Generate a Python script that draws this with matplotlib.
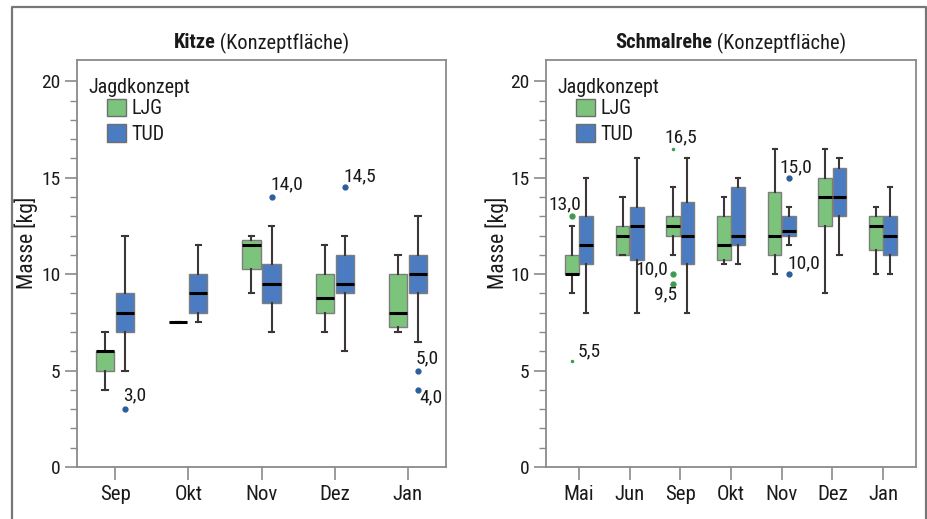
import matplotlib
matplotlib.use('Agg')
import matplotlib.pyplot as plt
import matplotlib.font_manager as fm
from matplotlib.patches import Patch
from matplotlib.lines import Line2D

# pick a narrow sans if there is one
names = {f.name for f in fm.fontManager.ttflist}
FONT = 'DejaVu Sans'
for cand in ['Liberation Sans Narrow', 'Roboto Condensed', 'Open Sans Condensed', 'Noto Sans', 'Open Sans']:
    if cand in names:
        FONT = cand
        break
plt.rcParams['font.family'] = [FONT, 'DejaVu Sans']

# --- data: (whislo, q1, med, q3, whishi) per month ---
months_kitze = ['Sep', 'Okt', 'Nov', 'Dez', 'Jan']
kitze_ljg = [(4, 5, 6, 6, 7), (7.5, 7.5, 7.5, 7.5, 7.5), (9, 10.25, 11.5, 11.75, 12),
             (7, 8, 8.75, 10, 11.5), (7, 7.25, 8, 10, 11)]
kitze_tud = [(5, 7, 8, 9, 12), (7.5, 8, 9, 10, 11.5), (7, 8.5, 9.5, 10.5, 12.5),
             (6, 9, 9.5, 11, 12), (6.5, 9, 10, 11, 13)]
# outliers: group, month index, value
kitze_out = [('TUD', 0, 3.0), ('TUD', 2, 14.0), ('TUD', 3, 14.5), ('TUD', 4, 5.0), ('TUD', 4, 4.0)]

months_schmal = ['Mai', 'Jun', 'Sep', 'Okt', 'Nov', 'Dez', 'Jan']
schmal_ljg = [(9, 10, 10, 11, 12.5), (11, 11, 12, 12.5, 14), (11, 12, 12.5, 13, 14.5),
              (10.5, 10.75, 11.5, 13, 14), (10, 11, 12, 14.25, 16.5), (9, 12.5, 14, 15, 16.5),
              (10, 11.25, 12.5, 13, 13.5)]
schmal_tud = [(8, 10.5, 11.5, 13, 15), (8, 10.75, 12.5, 13.5, 16), (8, 10.5, 12, 13.75, 16),
              (10.5, 11.5, 12, 14.5, 15), (11.5, 12, 12.25, 13, 13.5), (11, 13, 14, 15.5, 16),
              (10, 11, 12, 13, 14.5)]
schmal_out = [('LJG', 0, 13.0), ('LJG', 0, 5.5), ('LJG', 2, 16.5), ('LJG', 2, 10.0), ('LJG', 2, 9.5),
              ('TUD', 4, 15.0), ('TUD', 4, 10.0)]

# label placement for the outliers (pixel offsets, ha, marker size)
kitze_lab = [(-2, 14, 'left', 3.5), (-1, 13, 'left', 3.5), (-1, 11, 'left', 3.5),
             (-2, 12, 'left', 3.5), (1, -8, 'left', 3.5)]
schmal_lab = [(-23, 12, 'left', 3.5), (6, 10, 'left', 1.5), (-9, 11, 'left', 1.5), (-5, 5, 'right', 3.5),
              (4, -11, 'right', 3.5), (-9, 10, 'left', 3.5), (-1, 11, 'left', 3.5)]

GREEN = '#7cc47c'
BLUE = '#4b7cc2'
GREEN_DOT = '#3f9a50'
BLUE_DOT = '#2c5d9e'
WHISK = '#3d3636'
SPINE = '#8a8a8a'
TXT = '#1a1a1a'


def stats(rows):
    return [dict(whislo=r[0], q1=r[1], med=r[2], q3=r[3], whishi=r[4], fliers=[]) for r in rows]


def panel(ax, months, ljg, tud, outs, labs, off, w, xpad, bold, rest, ylab_x):
    pos = list(range(len(months)))
    for data, col, sh in [(ljg, GREEN, -off), (tud, BLUE, off)]:
        ax.bxp(stats(data), positions=[p + sh for p in pos], widths=w, patch_artist=True,
               showfliers=False, capwidths=w * 0.3,
               boxprops=dict(facecolor=col, edgecolor='#7d7d7d', linewidth=1.0),
               medianprops=dict(color='black', linewidth=2.2),
               whiskerprops=dict(color=WHISK, linewidth=1.5),
               capprops=dict(color=WHISK, linewidth=1.5))
    for (grp, i, v), (dx, dy, ha, ms) in zip(outs, labs):
        sh = -off if grp == 'LJG' else off
        c = GREEN_DOT if grp == 'LJG' else BLUE_DOT
        ax.plot(i + sh, v, 'o', ms=ms, color=c, mec=c)
        ax.annotate(f'{v:.1f}'.replace('.', ','), (i + sh, v), xytext=(dx, dy),
                    textcoords='offset pixels', ha=ha, va='center', fontsize=14, color=TXT)

    ax.set_xlim(-xpad, len(months) - 1 + xpad)
    ax.set_ylim(0, 21.1)
    ax.set_xticks(pos)
    ax.set_xticklabels(months, fontsize=15, color=TXT)
    ax.set_yticks([0, 5, 10, 15, 20])
    ax.set_yticks(range(0, 21), minor=True)
    ax.tick_params(axis='y', labelsize=14, labelcolor=TXT, length=9, width=1.2, color=SPINE, pad=3)
    ax.tick_params(axis='y', which='minor', length=5, width=1.0, color=SPINE)
    ax.tick_params(axis='x', length=9, width=1.2, color=SPINE, pad=4)
    for s in ax.spines.values():
        s.set_color(SPINE)
        s.set_linewidth(1.3)
    ax.set_ylabel('Masse [kg]', fontsize=15.5, color=TXT)
    ax.yaxis.set_label_coords(ylab_x, 0.55)

    # legend: title text plus indented handles
    ax.text(0.032, 0.933, 'Jagdkonzept', transform=ax.transAxes, fontsize=14.5,
            ha='left', va='center', color=TXT)
    handles = [Patch(facecolor=GREEN, edgecolor='#6e6e6e'), Patch(facecolor=BLUE, edgecolor='#6e6e6e')]
    leg = ax.legend(handles, ['LJG', 'TUD'], loc='upper left', bbox_to_anchor=(0.081, 0.905),
                    frameon=False, fontsize=14.5, handlelength=0.95, handleheight=0.95,
                    handletextpad=0.25, labelspacing=0.3, borderpad=0, borderaxespad=0)
    for t in leg.get_texts():
        t.set_color(TXT)

    # title: bold part + regular part, centred over the axes
    fig = ax.figure
    t1 = fig.text(0, 0, bold, fontsize=14.8, weight='bold', va='center', color=TXT)
    t2 = fig.text(0, 0, rest, fontsize=14.8, va='center', color=TXT)
    fig.canvas.draw()
    r = fig.canvas.get_renderer()
    w1 = t1.get_window_extent(r).width
    w2 = t2.get_window_extent(r).width
    bb = ax.get_position()
    cx = (bb.x0 + bb.x1) / 2 * fig.bbox.width
    yy = 1 - 43 / 519
    x1 = cx - (w1 + w2) / 2
    t1.set_position((x1 / fig.bbox.width, yy))
    t2.set_position(((x1 + w1) / fig.bbox.width, yy))


fig = plt.figure(figsize=(9.28, 5.19), dpi=100)
ax1 = fig.add_axes([77 / 928, 1 - 467 / 519, 369 / 928, 407 / 519])
ax2 = fig.add_axes([546 / 928, 1 - 467 / 519, 370 / 928, 407 / 519])

panel(ax1, months_kitze, kitze_ljg, kitze_tud, kitze_out, kitze_lab, 0.137, 0.25, 0.52,
      'Kitze', ' (Konzeptfläche)', -0.106)
panel(ax2, months_schmal, schmal_ljg, schmal_tud, schmal_out, schmal_lab, 0.14, 0.27, 0.65,
      'Schmalrehe', ' (Konzeptfläche)', -0.10)

# outer frame (open at the bottom)
fx0, fx1, fy = 12 / 928, 926 / 928, 1 - 7 / 519
fig.add_artist(Line2D([fx0, fx0, fx1, fx1], [0, fy, fy, 0], color='#777777', lw=1.6,
                      transform=fig.transFigure))

fig.savefig('out.png', dpi=100)
